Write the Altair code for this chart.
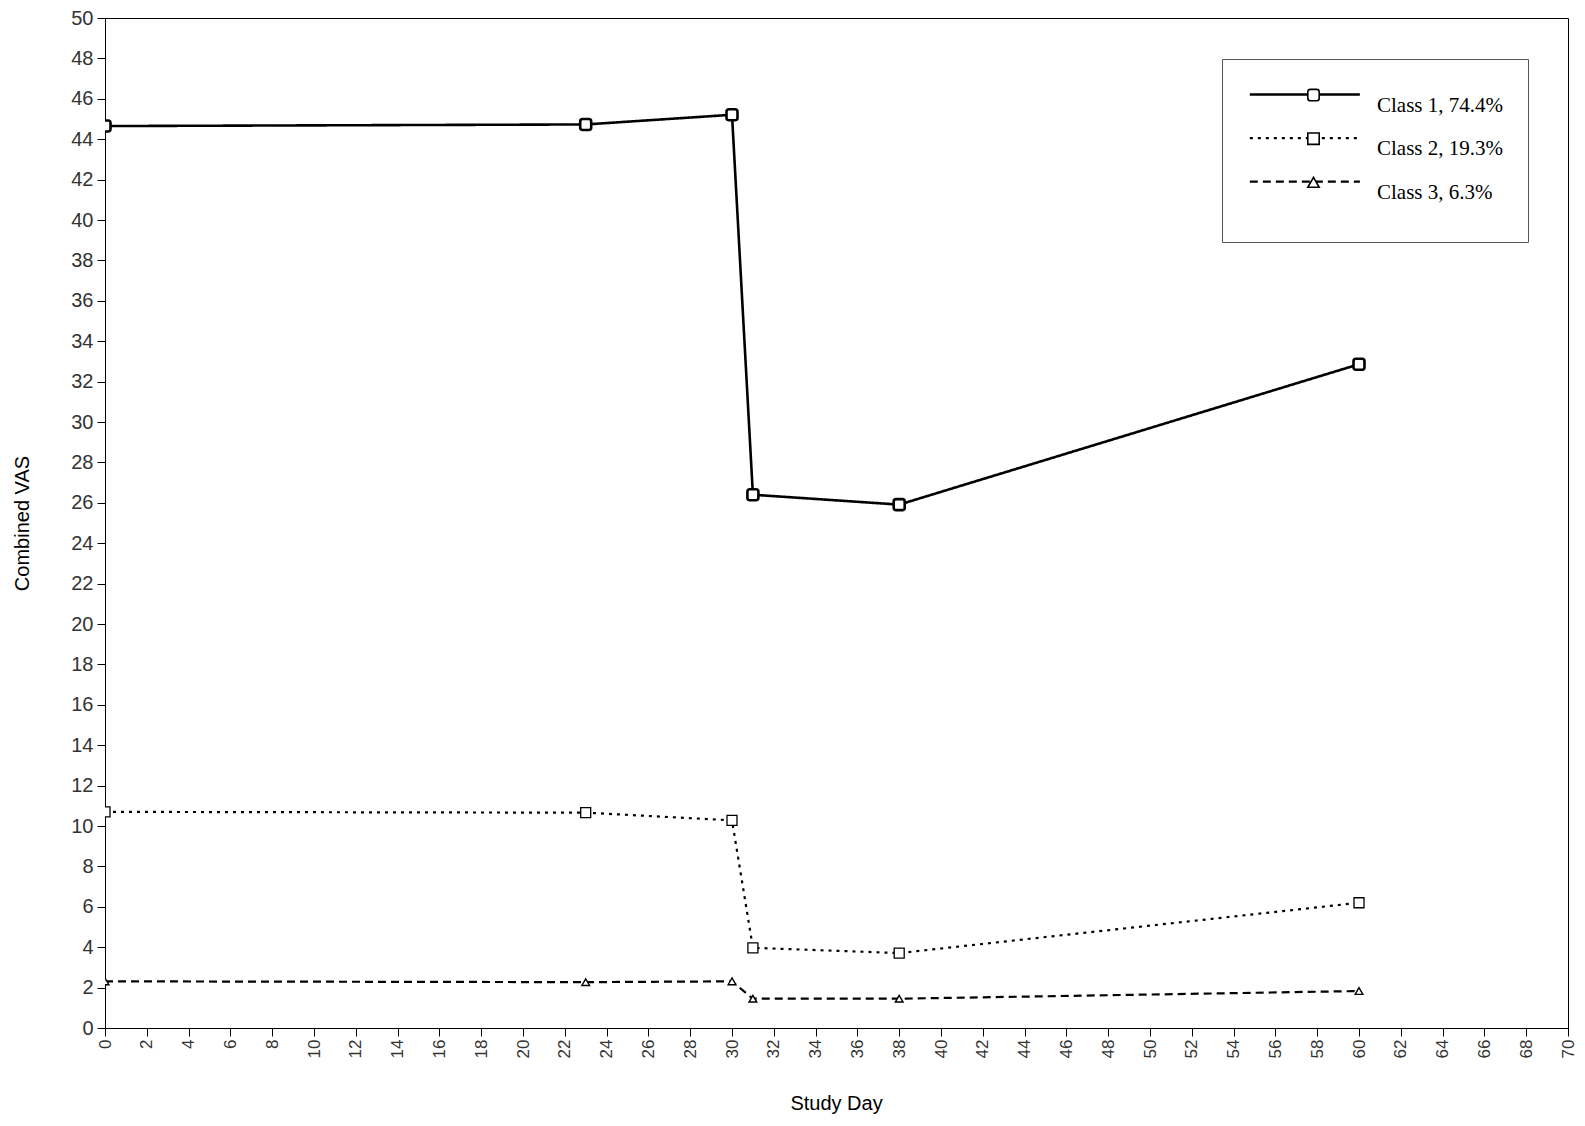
import altair as alt
import pandas as pd

days = [0, 23, 30, 31, 38, 60]
class1 = [44.65, 44.73, 45.21, 26.40, 25.91, 32.86]
class2 = [10.7, 10.66, 10.28, 3.97, 3.71, 6.2]
class3 = [2.31, 2.27, 2.31, 1.45, 1.45, 1.83]
labels = ["Class 1, 74.4%", "Class 2, 19.3%", "Class 3, 6.3%"]
x_ticks = list(range(0, 71, 2))
y_ticks = list(range(0, 51, 2))

rows = []
for lab, vals in zip(labels, [class1, class2, class3]):
    for d, v in zip(days, vals):
        rows.append({"Day": d, "VAS": v, "Class": lab, "Marker": lab})
df = pd.DataFrame(rows)

rounded_sq = "M-0.55,-1 H0.55 Q1,-1 1,-0.55 V0.55 Q1,1 0.55,1 H-0.55 Q-1,1 -1,0.55 V-0.55 Q-1,-1 -0.55,-1 Z"
legend_line = "M-1.18,0 H15.75"

x_enc = alt.X("Day:Q", scale=alt.Scale(domain=[0, 70], nice=False),
              axis=alt.Axis(values=x_ticks, labelAngle=-90, title="Study Day",
                            labelFontSize=17, labelPadding=3,
                            titleX=731, titleY=75, titleBaseline="middle"))
y_enc = alt.Y("VAS:Q", scale=alt.Scale(domain=[0, 50], nice=False),
              axis=alt.Axis(values=y_ticks, title="Combined VAS",
                            labelFontSize=20, labelPadding=4,
                            titleX=-83, titleY=505, titleBaseline="middle", titleAngle=-90))

dash = alt.StrokeDash(
    "Class:N",
    scale=alt.Scale(range=[[1, 0], [3, 5], [8, 5]]),
    legend=alt.Legend(title=" ", titleOrient="bottom", titleFontSize=14, titlePadding=0,
                      orient="none", legendX=1117, legendY=41,
                      symbolType=legend_line, symbolSize=169, symbolStrokeWidth=2.3,
                      symbolStrokeColor="black",
                      labelFont="Liberation Serif", labelFontSize=21,
                      labelColor="black", labelOffset=109, labelBaseline="top",
                      padding=25, rowPadding=11.6,
                      strokeColor="#555", labelLimit=300))

shape = alt.Shape(
    "Marker:N",
    scale=alt.Scale(range=[rounded_sq, "square", "triangle-up"]),
    legend=alt.Legend(title=None, orient="none", legendX=1198, legendY=66.6,
                      symbolSize=130, symbolStrokeWidth=1.6,
                      labelFont="Liberation Serif", labelFontSize=21,
                      labelBaseline="top",
                      labelColor="rgba(0,0,0,0)", padding=0, rowPadding=11.6))

base = alt.Chart(df)

line1 = base.transform_filter(alt.datum.Class == labels[0]).mark_line(
    color="black", strokeWidth=2.6, clip=True).encode(x=x_enc, y=y_enc, strokeDash=dash)
line23 = base.transform_filter(alt.datum.Class != labels[0]).mark_line(
    color="black", strokeWidth=2.2, clip=True).encode(x=x_enc, y=y_enc, strokeDash=dash)

pt1 = base.transform_filter(alt.datum.Class == labels[0]).mark_point(
    filled=False, fill="white", stroke="black", strokeWidth=2.6, size=121, opacity=1, clip=True
).encode(x="Day:Q", y="VAS:Q", shape=shape)
pt2 = base.transform_filter(alt.datum.Class == labels[1]).mark_point(
    filled=False, fill="white", stroke="black", strokeWidth=1.3, size=100, opacity=1, clip=True
).encode(x="Day:Q", y="VAS:Q", shape=shape)
pt3 = base.transform_filter(alt.datum.Class == labels[2]).mark_point(
    filled=False, fill="white", stroke="black", strokeWidth=1.4, size=60, opacity=1, clip=True
).encode(x="Day:Q", y="VAS:Q", shape=shape)

chart = alt.layer(line1, line23, pt1, pt2, pt3).properties(
    width=1463, height=1010,
    autosize=alt.AutoSizeParams(type="none"),
    padding={"left": 97, "top": 10, "right": 9, "bottom": 88},
).configure_view(
    stroke="black", strokeWidth=1
).configure_axis(
    grid=False, domainColor="black", tickColor="black", tickSize=8,
    labelFont="Liberation Sans", labelColor="#333", labelOverlap=False,
    titleFont="Liberation Sans", titleFontSize=20,
    titleFontWeight="normal", titleColor="black"
).configure_axisX(labelBaseline="middle")

chart.save("out.html", embed_options={"renderer": "svg", "actions": False})
